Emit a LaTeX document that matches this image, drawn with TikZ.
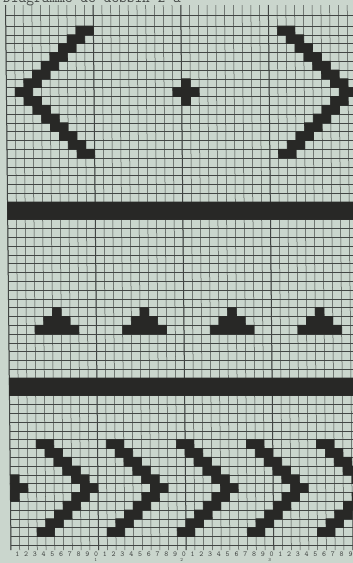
\documentclass[tikz,border=0pt]{standalone}
\begin{document}
\begin{tikzpicture}[x=1pt,y=-1pt]
\definecolor{paper}{RGB}{202,214,205}
\definecolor{inkc}{RGB}{40,40,38}
\definecolor{gridc}{RGB}{66,70,68}
\tikzset{
  gridthin/.style={draw=gridc, line width=0.5pt},
  gridheavy/.style={draw=gridc, line width=1pt},
  ink/.style={fill=inkc, draw=inkc, line width=0.7pt},
  numlbl/.style={font=\fontsize{7.5}{7.5}\selectfont\ttfamily, text=gridc, inner sep=0pt},
  tenlbl/.style={font=\fontsize{5}{5}\selectfont\ttfamily, text=gridc, inner sep=0pt},
  titlelbl/.style={font=\fontsize{15}{15}\selectfont\ttfamily, text=gridc, inner sep=0pt, anchor=base west},
}
\newcommand{\inkcells}[3]{\fill[ink] ({5.5+8.76*(#1)},{8.4+8.8*(#3)}) rectangle ({5.5+8.76*((#2)+1)},{8.4+8.8*((#3)+1)});}
\useasboundingbox (0,0) rectangle (353,563);
\fill[paper] (0,0) rectangle (353,563);
\clip (0,0) rectangle (353,563);
\node[titlelbl] (title) at (3,2.6) {Diagramme de dessin 2 a};
\begin{scope}[xslant=-0.01]
  % grid
  \foreach \k in {0,...,40} {
    \draw[gridthin] ({5.5+8.76*\k},5) -- ({5.5+8.76*\k},550);
  }
  \foreach \k in {0,10,20,30} {
    \draw[gridheavy] ({5.5+8.76*\k},5) -- ({5.5+8.76*\k},550);
  }
  \draw[gridthin] (5.5,15) -- (360,15);
  \foreach \j in {2,...,61} {
    \draw[gridthin] (5.5,{8.4+8.8*\j}) -- (360,{8.4+8.8*\j});
  }
  \foreach \j in {2,12,22,32,42,52} {
    \draw[gridheavy] (5.5,{8.4+8.8*\j}) -- (360,{8.4+8.8*\j});
  }
  % top chevrons
  \foreach \i in {0,...,14} {
    \pgfmathtruncatemacro\cl{1+abs(7-\i)}
    \pgfmathtruncatemacro\cr{38-abs(7-\i)}
    \pgfmathtruncatemacro\rw{2+\i}
    \inkcells{\cl}{\cl+1}{\rw}
    \inkcells{\cr}{\cr+1}{\rw}
  }
  % plus
  \inkcells{20}{20}{8}
  \inkcells{19}{21}{9}
  \inkcells{20}{20}{10}
  % bars
  \fill[ink] (5.5,{8.4+8.8*22}) rectangle (362,{8.4+8.8*24});
  \fill[ink] (5.5,{8.4+8.8*42}) rectangle (362,{8.4+8.8*44});
  % triangles
  \foreach \t in {3,13,23,33} {
    \inkcells{\t}{\t+4}{36}
    \inkcells{\t+1}{\t+3}{35}
    \inkcells{\t+2}{\t+2}{34}
  }
  % bottom chevrons
  \foreach \s in {-5,3,11,19,27,35} {
    \foreach \i in {0,...,10} {
      \pgfmathtruncatemacro\cc{\s+5-abs(5-\i)}
      \pgfmathtruncatemacro\lo{max(\cc,0)}
      \pgfmathtruncatemacro\hi{\cc+1}
      \pgfmathtruncatemacro\rw{49+\i}
      \ifnum\hi<0 \else \inkcells{\lo}{\hi}{\rw}\fi
    }
  }
  % column numbers
  \foreach \n in {1,...,39} {
    \pgfmathtruncatemacro\dg{mod(\n,10)}
    \node[numlbl] (num\n) at ({11.7+8.77*(\n-1)},554.5) {\dg};
  }
  \node[tenlbl] (ten1) at (90,560) {1};
  \node[tenlbl] (ten2) at (176,560) {2};
  \node[tenlbl] (ten3) at (264,560) {3};
\end{scope}
\end{tikzpicture}
\end{document}
